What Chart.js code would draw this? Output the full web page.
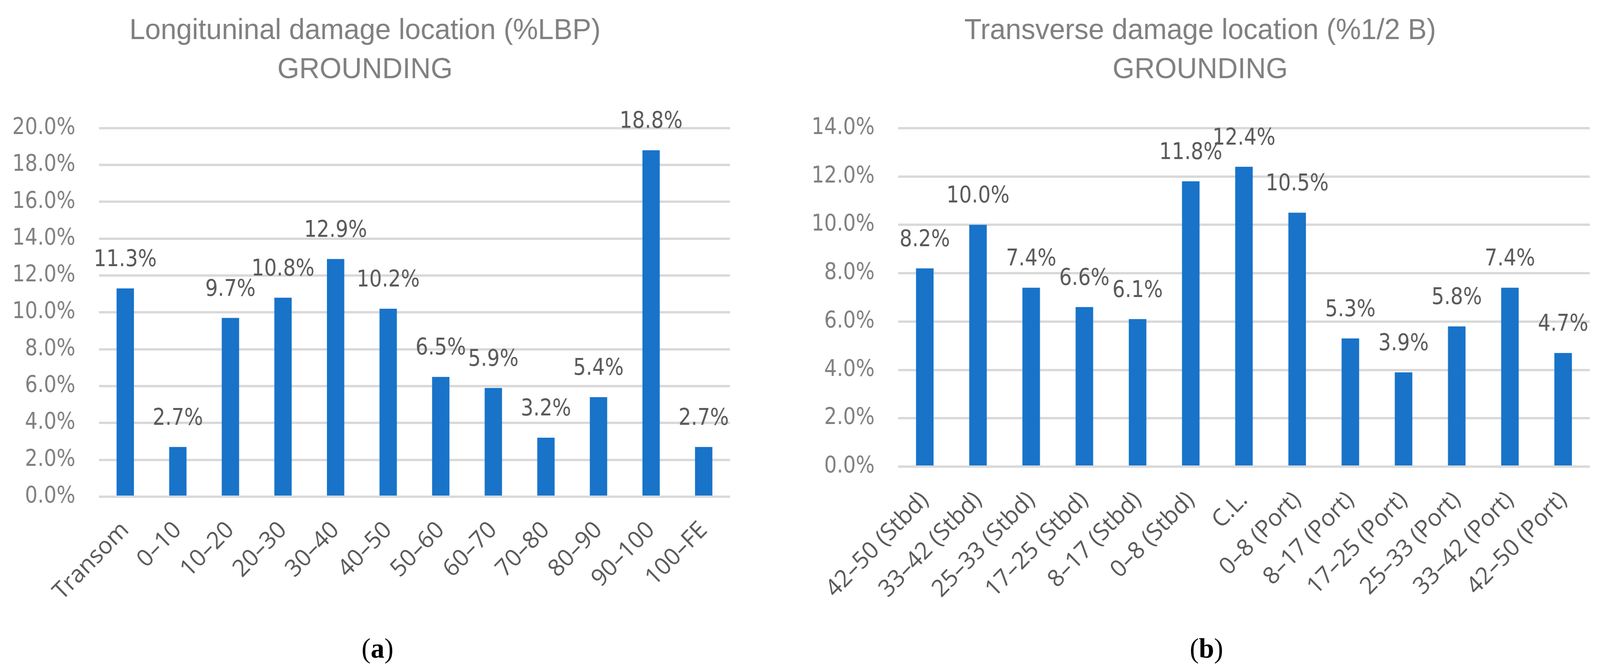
<!DOCTYPE html>
<html>
<head>
<meta charset="utf-8">
<script src="https://cdn.jsdelivr.net/npm/chart.js@4.4.0/dist/chart.umd.min.js"></script>
<style>
  html, body { margin: 0; background: #fff; overflow: hidden; }
  #wrap { position: relative; width: 4204px; height: 1717px; overflow: hidden; transform-origin: 0 0; }
  canvas { position: absolute; top: 0; }
  .cap { position: absolute; top: 1618px; font-family: "Liberation Serif", "Times New Roman", serif; font-size: 72px; color: #000; transform: translateX(-50%); }
</style>
</head>
<body>
<div id="wrap">
  <canvas id="graficoLong" width="1984" height="1600" style="left:0px"></canvas>
  <canvas id="graficoTrans" width="2074" height="1600" style="left:2130px"></canvas>
  <div class="cap" style="left:992px">(<b>a</b>)</div>
  <div class="cap" style="left:3170px">(<b>b</b>)</div>
</div>
<script>
// datos
const categoriasLong = ['Transom', '0–10', '10–20', '20–30', '30–40', '40–50', '50–60', '60–70', '70–80', '80–90', '90–100', '100–FE'];
const valoresLong = [11.3, 2.7, 9.7, 10.8, 12.9, 10.2, 6.5, 5.9, 3.2, 5.4, 18.8, 2.7];

const categoriasTrans = ['42–50 (Stbd)', '33–42 (Stbd)', '25–33 (Stbd)', '17–25 (Stbd)', '8–17 (Stbd)', '0–8 (Stbd)', 'C.L.',
    '0–8 (Port)', '8–17 (Port)', '17–25 (Port)', '25–33 (Port)', '33–42 (Port)', '42–50 (Port)'];
const valoresTrans = [8.2, 10.0, 7.4, 6.6, 6.1, 11.8, 12.4, 10.5, 5.3, 3.9, 5.8, 7.4, 4.7];

const titulosLong = ['Longituninal damage location (%LBP)', 'GROUNDING'];
const titulosTrans = ['Transverse damage location (%1/2 B)', 'GROUNDING'];

const FUENTE_NUM = '"Liberation Sans Narrow", "DejaVu Sans Condensed", "Liberation Sans", sans-serif';
const FUENTE_TIT = '"Liberation Sans", Arial, sans-serif';
const FUENTE_CAT = '"Open Sans", "Noto Sans", "DejaVu Sans", sans-serif';

// la ventana real puede ser mas estrecha que 4204px: se ajusta el ancho
const escalaX = Math.min(1, window.innerWidth / 4204);
document.getElementById('wrap').style.transform = `scale(${escalaX}, 1)`;

// etiquetas encima de cada barra
const etiquetasBarras = {
    id: 'etiquetasBarras',
    afterDatasetsDraw(chart) {
        const ctx = chart.ctx;
        const meta = chart.getDatasetMeta(0);
        const datos = chart.data.datasets[0].data;
        ctx.save();
        ctx.font = '58px ' + FUENTE_NUM;
        ctx.fillStyle = '#595959';
        ctx.textAlign = 'center';
        ctx.textBaseline = 'alphabetic';
        meta.data.forEach((barra, i) => {
            ctx.fillText(datos[i].toFixed(1) + '%', barra.x, barra.y - 57);
        });
        ctx.restore();
    }
};

function crearGrafico(id, categorias, valores, titulos, maximo, anchoEjeY, altoEjeX, derecha) {
    const ctx = document.getElementById(id).getContext('2d');
    return new Chart(ctx, {
        type: 'bar',
        data: {
            labels: categorias,
            datasets: [{
                data: valores,
                backgroundColor: '#1873C9',
                categoryPercentage: 1,
                barPercentage: 0.33
            }]
        },
        options: {
            responsive: false,
            animation: false,
            devicePixelRatio: 1,
            layout: { padding: { left: 0, right: derecha, top: 0, bottom: 0 } },
            plugins: {
                legend: { display: false },
                tooltip: { enabled: false },
                title: {
                    display: true,
                    text: titulos,
                    color: '#808080',
                    font: { family: FUENTE_TIT, size: 74, weight: 'normal', lineHeight: 1.35 },
                    padding: { top: 30, bottom: 98 }
                }
            },
            scales: {
                x: {
                    grid: { display: false },
                    border: { display: false },
                    ticks: {
                        autoSkip: false,
                        minRotation: 45,
                        maxRotation: 45,
                        padding: 42,
                        color: '#595959',
                        font: { family: FUENTE_CAT, size: 61 }
                    },
                    // tamaño fijo para que el area del grafico quede donde en la figura
                    afterFit: (eje) => {
                        eje.height = altoEjeX;
                        eje.paddingLeft = 0;
                        eje.paddingRight = 0;
                    }
                },
                y: {
                    min: 0,
                    max: maximo,
                    grid: { color: '#d9d9d9', lineWidth: 6, drawTicks: false },
                    border: { display: false },
                    ticks: {
                        stepSize: 2,
                        padding: 62,
                        color: '#808080',
                        font: { family: FUENTE_NUM, size: 58 },
                        callback: (v) => v.toFixed(1) + '%'
                    },
                    afterFit: (eje) => {
                        eje.width = anchoEjeY;
                        eje.paddingTop = 0;
                        eje.paddingBottom = 0;
                    }
                }
            }
        },
        plugins: [etiquetasBarras]
    });
}

crearGrafico('graficoLong', categoriasLong, valoresLong, titulosLong, 20, 260, 329, 66);
crearGrafico('graficoTrans', categoriasTrans, valoresTrans, titulosTrans, 14, 230, 406, 27);
</script>
</body>
</html>
